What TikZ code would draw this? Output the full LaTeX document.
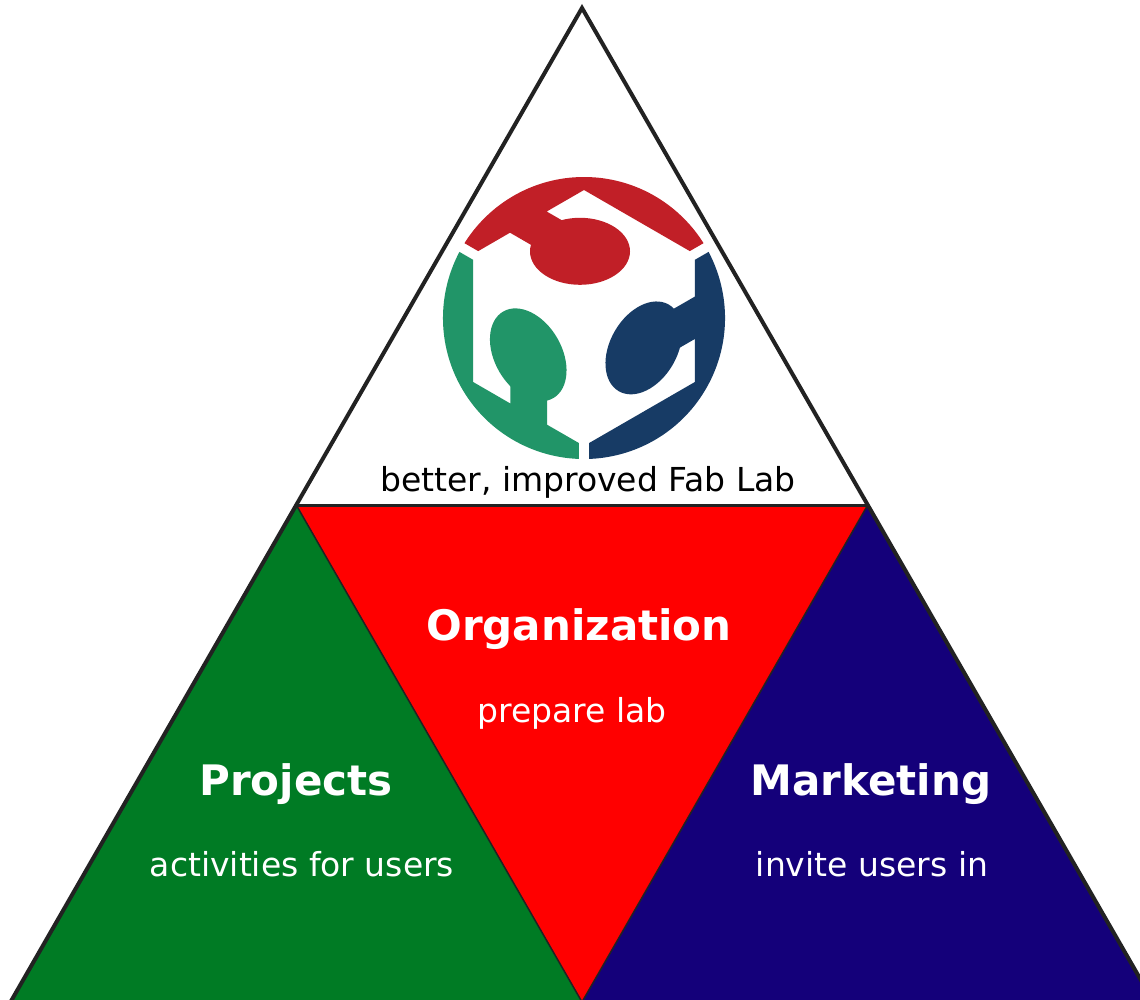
\documentclass[tikz,border=0pt]{standalone}
\usepackage{fontspec}
\setmainfont{DejaVu Sans}
\definecolor{triGreen}{RGB}{0,123,36}
\definecolor{triRed}{RGB}{255,0,0}
\definecolor{triBlue}{RGB}{20,0,122}
\definecolor{lineGray}{RGB}{34,34,34}
\definecolor{logoRed}{RGB}{193,31,39}
\definecolor{logoGreen}{RGB}{33,149,104}
\definecolor{logoBlue}{RGB}{23,59,101}
\begin{document}
\begin{tikzpicture}[x=1pt,y=-1pt,
  titletext/.style={text=white,font=\fontsize{42}{50}\selectfont\bfseries,anchor=base,inner sep=0pt},
  subtext/.style={text=white,font=\fontsize{33}{40}\selectfont,anchor=base,inner sep=0pt},
  outline/.style={draw=lineGray,line width=4pt,line join=miter}]
\useasboundingbox (0,0) rectangle (1140,999);
\clip (0,0) rectangle (1140,999);
\fill[white] (0,0) rectangle (1140,999);
% triangle corners
\coordinate (apex) at (582,8);
\coordinate (bl) at (10.5,1002);
\coordinate (br) at (1153.5,1002);
\coordinate (ml) at (296.25,505);
\coordinate (mr) at (867.75,505);
\coordinate (mb) at (582,1002);
% coloured parts
\fill[triGreen] (ml) -- (bl) -- (mb) -- cycle;
\fill[triBlue] (mr) -- (mb) -- (br) -- cycle;
\filldraw[fill=triRed, draw=lineGray, line width=1.5pt] (ml) -- (mr) -- (mb) -- cycle;
\draw[lineGray, line width=3pt] (ml) -- (mr);
\draw[outline] (bl) -- (apex) -- (br);
% Fab Lab logo
\foreach \ang/\col in {0/logoRed, 120/logoGreen, -120/logoBlue} {
  \begin{scope}[shift={(584,318)}, rotate=\ang]
    \begin{scope}
      \clip (0,0) circle[radius=141];
      \fill[\col] (-105.8,-66.9) -- (-140.4,-86.9) -- (-160,-200) -- (160,-200)
        -- (140.4,-86.9) -- (105.8,-66.9) -- (0,-128) -- (-37.3,-106.5)
        -- (-2.7,-86.5) -- (-39.4,-65.3) -- (-74,-85.3) -- cycle;
    \end{scope}
    \fill[\col] (-4,-66.7) ellipse[x radius=50, y radius=33.5];
  \end{scope}
}
% texts
\node[subtext, text=black] (goal) at (588,491) {better, improved Fab Lab};
\node[titletext] (org) at (579,640) {Organization};
\node[subtext] (orgsub) at (572,722) {prepare lab};
\node[titletext] (proj) at (296,795) {Projects};
\node[subtext] (projsub) at (302,876) {activities for users};
\node[titletext] (mkt) at (871,795) {Marketing};
\node[subtext] (mktsub) at (872,876) {invite users in};
\end{tikzpicture}
\end{document}
